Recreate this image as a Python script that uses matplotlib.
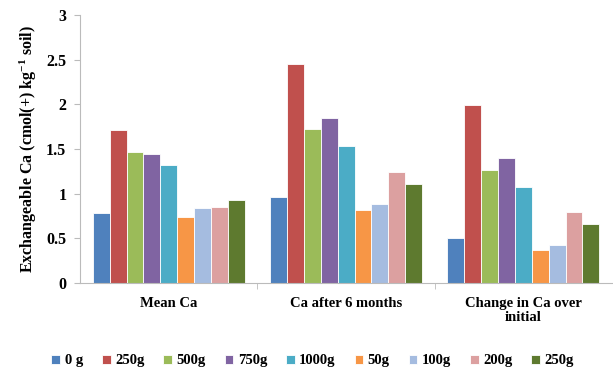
import matplotlib.pyplot as plt
import numpy as np

plt.rcParams['font.family'] = 'Liberation Serif'
plt.rcParams['font.weight'] = 'bold'
plt.rcParams['axes.labelweight'] = 'bold'
plt.rcParams['mathtext.fontset'] = 'custom'
plt.rcParams['mathtext.rm'] = 'Liberation Serif:bold'
plt.rcParams['mathtext.it'] = 'Liberation Serif:bold'
plt.rcParams['mathtext.default'] = 'rm'

categories = ['Mean Ca', 'Ca after 6 months', 'Change in Ca over\ninitial']
series_names = ['0 g', '250g', '500g', '750g', '1000g', '50g', '100g', '200g', '250g']
mean_ca = [0.78, 1.71, 1.47, 1.45, 1.32, 0.74, 0.84, 0.85, 0.93]
ca_6_months = [0.96, 2.45, 1.72, 1.85, 1.53, 0.82, 0.89, 1.24, 1.11]
change_ca = [0.50, 1.99, 1.27, 1.40, 1.07, 0.37, 0.43, 0.80, 0.66]
COLORS = ['#4F81BD', '#C0504D', '#9BBB59', '#8064A2', '#4BACC6',
          '#F79646', '#A5BCE0', '#DCA0A0', '#5E7A2F']

values = np.array([mean_ca, ca_6_months, change_ca])

fig = plt.figure(figsize=(6.13, 3.74), dpi=100)
ax = fig.add_axes([0.131, 0.243, 0.867, 0.717])

n = len(series_names)
group_w = 0.86
bar_w = group_w / n
x = np.arange(len(categories))
for i in range(n):
    ax.bar(x - group_w / 2 + bar_w * (i + 0.5), values[:, i], width=bar_w,
           color=COLORS[i], edgecolor='white', linewidth=0.6, label=series_names[i])

ax.set_xlim(-0.5, len(categories) - 0.5)
ax.set_ylim(0, 3)
ax.set_yticks([0, 0.5, 1, 1.5, 2, 2.5, 3])
ax.set_yticklabels(['0', '0.5', '1', '1.5', '2', '2.5', '3'], fontsize=11.5)
ax.set_xticks(x)
ax.set_xticklabels(categories, fontsize=10.5, linespacing=1.1)
ax.set_xticks([0.5, 1.5], minor=True)
ax.tick_params(axis='x', which='major', length=0, pad=10)
ax.tick_params(axis='x', which='minor', length=4, color='#BBBBBB')
ax.tick_params(axis='y', length=4, color='#BBBBBB', pad=6)

for s in ['top', 'right']:
    ax.spines[s].set_visible(False)
for s in ['left', 'bottom']:
    ax.spines[s].set_color('#BBBBBB')

ax.set_ylabel(r'Exchangeable Ca (cmol(+) kg$^{-1}$ soil)', fontsize=11.5,
              fontweight='bold', labelpad=5)

fig.legend(loc='center', bbox_to_anchor=(0.51, 0.035), ncol=9, frameon=False,
           fontsize=10.5, handlelength=0.6, handleheight=0.6, handletextpad=0.3,
           columnspacing=1.3)

fig.savefig('out.png', dpi=100)
